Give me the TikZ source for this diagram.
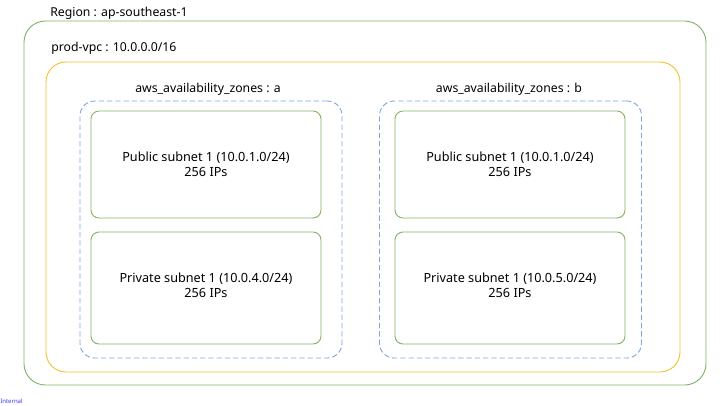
\documentclass[tikz,border=0pt]{standalone}
\usepackage{fontspec}
\setmainfont{Noto Sans}
\usetikzlibrary{positioning}
\definecolor{regiongreen}{HTML}{82B366}
\definecolor{vpcyellow}{HTML}{F2C12E}
\definecolor{azblue}{HTML}{7EA6E0}
\definecolor{tagblue}{HTML}{3A3AF5}

\begin{document}
\begin{tikzpicture}[
    x=0.75pt, y=-0.75pt,
    region/.style={draw=regiongreen, line width=0.7pt, rounded corners=16pt, inner sep=0pt, minimum width=511.5pt, minimum height=273pt},
    vpc/.style={draw=vpcyellow, line width=0.7pt, rounded corners=15pt, inner sep=0pt, minimum width=475.5pt, minimum height=232.5pt},
    zone/.style={draw=azblue, dash pattern=on 4pt off 2.2pt, line width=0.7pt, rounded corners=11pt, inner sep=0pt, minimum width=196.5pt, minimum height=192.75pt},
    subnet/.style={draw=regiongreen, line width=0.7pt, rounded corners=6pt, inner sep=0pt, minimum width=172.5pt, align=center, font=\fontsize{9.5}{11.25}\selectfont},
    lbl/.style={font=\fontsize{9.2}{11}\selectfont, inner sep=0pt}
]
\useasboundingbox (0,0) rectangle (720,405);

\node[region] (R) at (365,203) {};
\node[lbl, anchor=west] (Rl) at (50,13) {Region : ap-southeast-1};

\node[vpc] (V) at (363,217) {};
\node[lbl, anchor=west] (Vl) at (51,48) {prod-vpc : 10.0.0.0/16};

\node[zone] (A) at (211,229.5) {};
\node[lbl] (Al) at (208,89) {aws\_availability\_zones : a};
\node[zone] (B) at (510.5,229.5) {};
\node[lbl] (Bl) at (509,89) {aws\_availability\_zones : b};

\node[subnet, minimum height=80.25pt] (PA) at (206,164.5) {Public subnet 1 (10.0.1.0/24)\\256 IPs};
\node[subnet, minimum height=84pt] (QA) at (206,288) {Private subnet 1 (10.0.4.0/24)\\256 IPs\\[-7.5pt]};
\node[subnet, minimum height=80.25pt] (PB) at (510,164.5) {Public subnet 1 (10.0.1.0/24)\\256 IPs};
\node[subnet, minimum height=84pt] (QB) at (510,288) {Private subnet 1 (10.0.5.0/24)\\256 IPs\\[-7.5pt]};

\node[anchor=west, inner sep=0pt, text=tagblue, font=\fontsize{4.5}{5}\selectfont] (T) at (0,401) {Internal};
\end{tikzpicture}
\end{document}
